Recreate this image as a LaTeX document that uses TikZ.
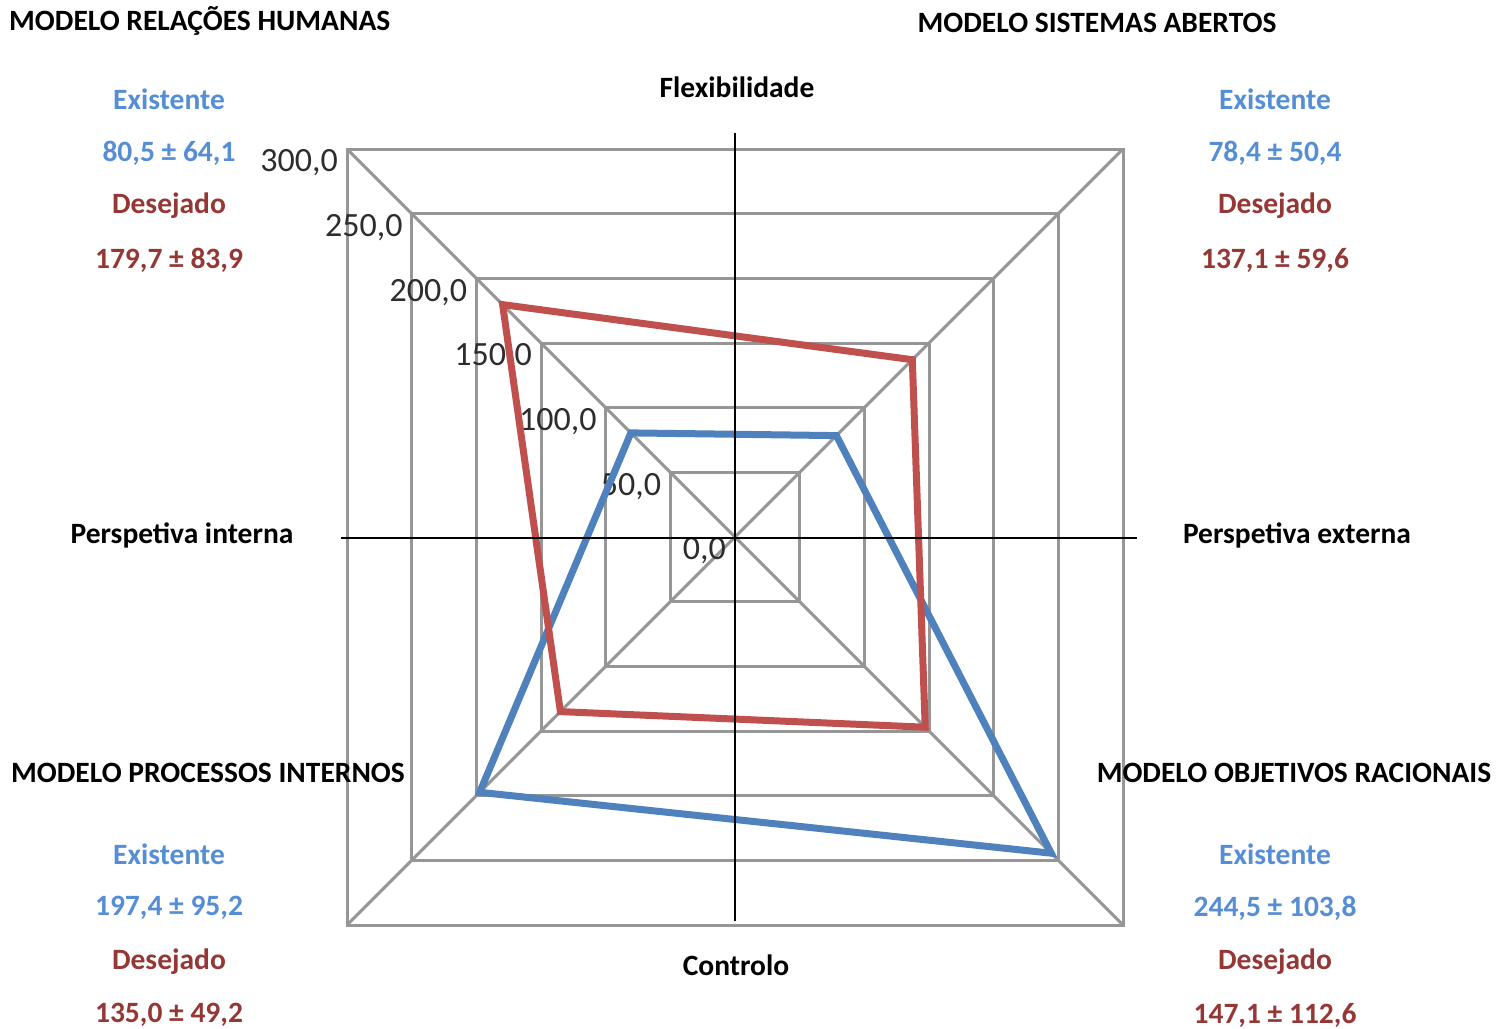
\documentclass[tikz,border=0pt]{standalone}
\usepackage{fontspec}
\setmainfont{Carlito}
\usetikzlibrary{calc}
\definecolor{gridgray}{RGB}{150,150,150}
\definecolor{serieblue}{RGB}{79,129,189}
\definecolor{seriered}{RGB}{192,80,77}
\definecolor{txtblue}{RGB}{85,142,213}
\definecolor{txtred}{RGB}{149,55,53}
\definecolor{ticktxt}{RGB}{45,45,45}
\tikzset{
  gridline/.style={draw=gridgray, line width=3pt},
  axisline/.style={draw=black, line width=2.6pt},
  serieE/.style={draw=serieblue, line width=7pt, line join=miter},
  serieD/.style={draw=seriered, line width=7pt, line join=miter},
  boldtxt/.style={font=\fontsize{29.5}{33}\selectfont\bfseries, inner sep=0pt},
  quadtitle/.style={boldtxt},
  axtitle/.style={boldtxt},
  valE/.style={boldtxt, text=txtblue},
  valD/.style={boldtxt, text=txtred},
  ticklbl/.style={font=\fontsize{34}{38}\selectfont, text=ticktxt, inner sep=0pt, anchor=east},
}
\begin{document}
\begin{tikzpicture}[x=1pt, y=-1pt]
\useasboundingbox (0,0) rectangle (1496,1028);
\coordinate (C) at (735,537);

% concentric grid squares (50 per step) and diagonals
\foreach \k in {1,...,6} {
  \pgfmathsetmacro{\r}{64.667*\k}
  \draw[gridline] ($(C)+(-\r,-\r)$) rectangle ($(C)+(\r,\r)$);
}
\draw[gridline] ($(C)+(-388,-388)$) -- ($(C)+(388,388)$);
\draw[gridline] ($(C)+(388,-388)$) -- ($(C)+(-388,388)$);

% scale labels along the upper-left diagonal
\foreach \k/\lab in {0/{0,0},1/{50,0},2/{100,0},3/{150,0},4/{200,0},5/{250,0},6/{300,0}} {
  \pgfmathsetmacro{\r}{64.667*\k}
  \node[ticklbl] (t\k) at ($(C)+(-\r-9,-\r+14)$) {\lab};
}

% data points (offset along diagonals = value * 388/300)
\coordinate (E1) at ($(C)+(-104.1,-104.1)$);
\coordinate (E2) at ($(C)+(101.4,-101.4)$);
\coordinate (E3) at ($(C)+(316.2,316.2)$);
\coordinate (E4) at ($(C)+(-255.3,255.3)$);
\coordinate (D1) at ($(C)+(-232.4,-232.4)$);
\coordinate (D2) at ($(C)+(177.3,-177.3)$);
\coordinate (D3) at ($(C)+(190.2,190.2)$);
\coordinate (D4) at ($(C)+(-174.6,174.6)$);

\draw[serieE] (E1) -- (E2) -- (E3) -- (E4) -- cycle;
\draw[serieD] (D1) -- (D2) -- (D3) -- (D4) -- cycle;

% axes
\coordinate (axT) at (735,133);
\coordinate (axB) at (735,921);
\coordinate (axL) at (341,538);
\coordinate (axR) at (1137,538);
\draw[axisline] (axT) -- (axB);
\draw[axisline] (axL) -- (axR);

% axis titles
\node[axtitle] (flex) at (737,87) {Flexibilidade};
\node[axtitle] (ctrl) at (736,965) {Controlo};
\node[axtitle] (pint) at (182,535) {Perspetiva interna};
\node[axtitle] (pext) at (1297,535) {Perspetiva externa};

% quadrant titles
\node[quadtitle, anchor=west] (qRH) at (9,21) {MODELO RELAÇÕES HUMANAS};
\node[quadtitle] (qSA) at (1097,23) {MODELO SISTEMAS ABERTOS};
\node[quadtitle] (qPI) at (208,773) {MODELO PROCESSOS INTERNOS};
\node[quadtitle] (qOR) at (1294,773) {MODELO OBJETIVOS RACIONAIS};

% quadrant values
\node[valE] (rhE) at (169,99) {Existente};
\node[valE] (rhEv) at (169,153) {80,5 ± 64,1};
\node[valD] (rhD) at (169,206) {Desejado};
\node[valD] (rhDv) at (169,260) {179,7 ± 83,9};

\node[valE] (saE) at (1275,99) {Existente};
\node[valE] (saEv) at (1275,153) {78,4 ± 50,4};
\node[valD] (saD) at (1275,206) {Desejado};
\node[valD] (saDv) at (1275,260) {137,1 ± 59,6};

\node[valE] (piE) at (169,854) {Existente};
\node[valE] (piEv) at (169,908) {197,4 ± 95,2};
\node[valD] (piD) at (169,962) {Desejado};
\node[valD] (piDv) at (169,1015) {135,0 ± 49,2};

\node[valE] (orE) at (1275,854) {Existente};
\node[valE] (orEv) at (1275,908) {244,5 ± 103,8};
\node[valD] (orD) at (1275,962) {Desejado};
\node[valD] (orDv) at (1275,1015) {147,1 ± 112,6};
\end{tikzpicture}
\end{document}
